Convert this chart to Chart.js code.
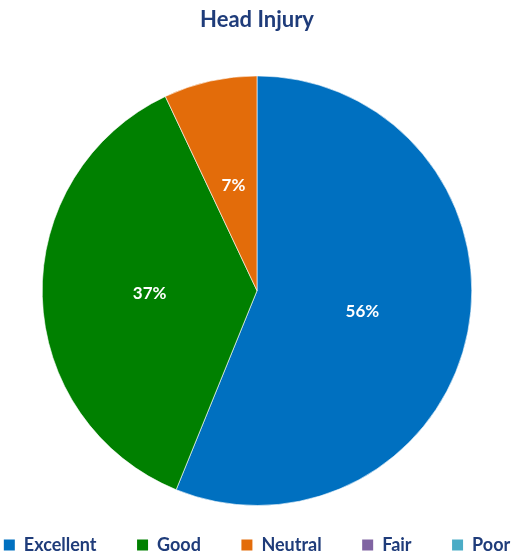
<!doctype html>
<html lang="en">
  <head>
    <meta charset="utf-8">
    <title>Head Injury</title>
    <script src="https://cdn.jsdelivr.net/npm/chart.js"></script>
    <style>
      html, body { margin: 0; padding: 0; background: #fff; }
      .chart-box { width: 514px; height: 558px; position: relative; }
    </style>
  </head>
  <body>
    <div class="chart-box">
      <canvas id="headInjuryChart"></canvas>
    </div>
    <script>
      // data (counts giving 56% / 37% / 7%)
      const categories = ['Excellent', 'Good', 'Neutral', 'Fair', 'Poor'];
      const responses = [32, 21, 4, 0, 0];
      const sliceColors = ['#0070C0', '#008000', '#E36C0A', '#8064A2', '#4BACC6'];
      const textBlue = '#1F3C7A';

      // percent labels in the middle of each slice
      const sliceLabels = {
        id: 'sliceLabels',
        afterDatasetsDraw(chart) {
          const ctx = chart.ctx;
          const data = chart.data.datasets[0].data;
          const total = data.reduce((a, b) => a + b, 0);
          const meta = chart.getDatasetMeta(0);
          ctx.save();
          ctx.font = 'bold 17px Lato';
          ctx.fillStyle = '#fff';
          ctx.textAlign = 'center';
          ctx.textBaseline = 'middle';
          meta.data.forEach((arc, i) => {
            if (!data[i]) return;
            const pos = arc.tooltipPosition();
            ctx.fillText(Math.round(data[i] / total * 100) + '%', pos.x, pos.y);
          });
          ctx.restore();
        }
      };

      new Chart(document.getElementById('headInjuryChart'), {
        type: 'pie',
        data: {
          labels: categories,
          datasets: [{
            data: responses,
            backgroundColor: sliceColors,
            borderColor: 'rgba(255,255,255,0.6)',
            borderWidth: 1
          }]
        },
        options: {
          responsive: true,
          maintainAspectRatio: false,
          animation: false,
          layout: { padding: { top: 0, bottom: -6, left: 0, right: 0 } },
          plugins: {
            tooltip: { enabled: false },
            title: {
              display: true,
              text: 'Head Injury',
              color: textBlue,
              font: { family: 'Lato', size: 22, weight: 'bold' },
              padding: { top: 7, bottom: 42 }
            },
            legend: {
              position: 'bottom',
              title: { display: true, text: '', font: { size: 10 }, padding: { top: 18, bottom: 0 } },
              labels: {
                padding: 0,
                boxWidth: 11,
                boxHeight: 11,
                color: textBlue,
                font: { family: 'Lato', size: 18, weight: 'bold' },
                generateLabels(chart) {
                  const ds = chart.data.datasets[0];
                  return chart.data.labels.map((label, i) => ({
                    text: i < chart.data.labels.length - 1 ? label + '\u2003\u2003\u2003' : label,
                    fillStyle: ds.backgroundColor[i],
                    strokeStyle: ds.backgroundColor[i],
                    lineWidth: 0,
                    fontColor: textBlue,
                    hidden: false,
                    index: i
                  }));
                }
              }
            }
          }
        },
        plugins: [sliceLabels]
      });
    </script>
  </body>
</html>
